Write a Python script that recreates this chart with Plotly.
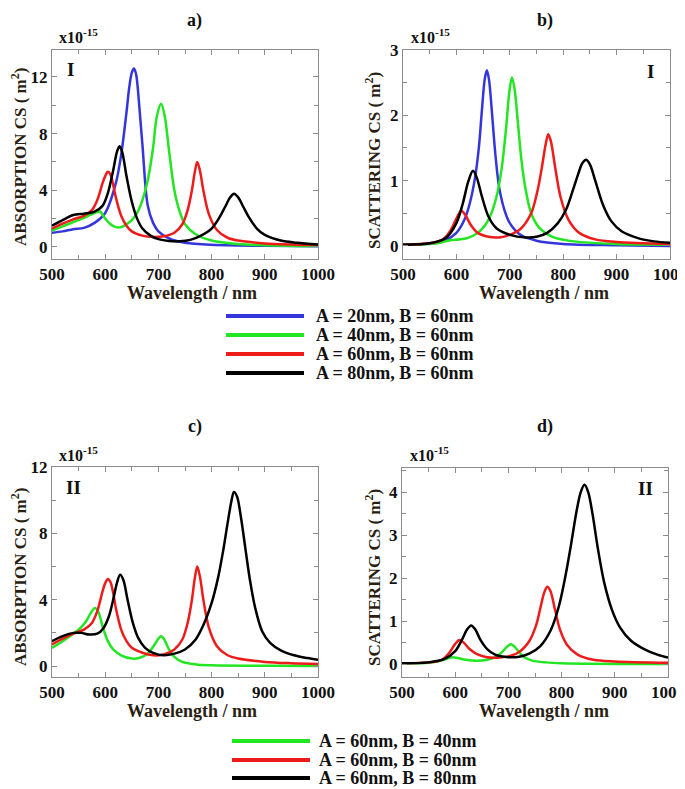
import plotly.graph_objects as go

W, H = 685, 789
OFF = 8  # the page body adds an 8px margin around the figure
FONT = "Liberation Serif, Times New Roman, serif"
TXT = "#2a1e12"
BLUE, GREEN, RED, BLACK = "#3535dc", "#22e622", "#ee1b1b", "#000000"

# ---------------- Panel a) absorption, set I ----------------
a_blue_x = [500, 520, 540, 560, 580, 600, 620, 630, 640, 645, 650, 654, 658, 665, 670, 680, 690, 700, 720, 750, 800, 900, 1000]
a_blue_y = [1.0, 1.1, 1.25, 1.35, 1.7, 2.4, 4.5, 6.5, 9.5, 11.2, 12.3, 12.6, 12.2, 9.5, 7.2, 2.9, 1.7, 1.1, 0.6, 0.3, 0.15, 0.08, 0.05]
a_green_x = [500, 520, 540, 560, 580, 590, 600, 610, 620, 630, 640, 650, 660, 670, 680, 690, 697, 705, 712, 720, 730, 740, 750, 770, 800, 850, 900, 1000]
a_green_y = [1.15, 1.45, 1.75, 2.05, 2.4, 2.5, 2.0, 1.6, 1.4, 1.4, 1.6, 1.9, 2.4, 3.3, 4.7, 7.0, 9.2, 10.1, 9.2, 6.8, 4.0, 2.5, 1.6, 0.9, 0.45, 0.2, 0.12, 0.06]
a_red_x = [500, 520, 540, 560, 575, 585, 595, 600, 605, 610, 615, 620, 630, 640, 650, 670, 690, 710, 730, 745, 755, 763, 768, 773, 778, 785, 795, 810, 830, 850, 900, 950, 1000]
a_red_y = [1.3, 1.65, 1.95, 2.2, 2.6, 3.3, 4.5, 5.0, 5.3, 5.1, 4.4, 3.5, 2.2, 1.5, 1.1, 0.8, 0.7, 0.75, 1.0, 1.6, 2.6, 4.0, 5.2, 6.0, 5.4, 3.9, 2.3, 1.2, 0.65, 0.45, 0.25, 0.17, 0.13]
a_black_x = [500, 520, 540, 560, 580, 595, 605, 615, 622, 627, 632, 640, 650, 660, 670, 685, 700, 720, 740, 760, 780, 800, 815, 825, 835, 842, 850, 860, 870, 885, 900, 930, 960, 1000]
a_black_y = [1.5, 1.9, 2.25, 2.35, 2.5, 2.9, 3.8, 5.4, 6.7, 7.1, 6.7, 5.0, 3.2, 2.0, 1.3, 0.8, 0.55, 0.42, 0.4, 0.5, 0.8, 1.3, 2.1, 2.8, 3.5, 3.75, 3.5, 2.8, 2.1, 1.3, 0.85, 0.45, 0.3, 0.18]

# ---------------- Panel b) scattering, set I ----------------
b_blue_x = [500, 540, 560, 580, 600, 615, 625, 635, 642, 648, 653, 657, 661, 667, 673, 680, 690, 700, 720, 750, 800, 900, 1000]
b_blue_y = [0.02, 0.03, 0.05, 0.09, 0.2, 0.4, 0.65, 1.05, 1.5, 2.1, 2.55, 2.69, 2.55, 2.0, 1.4, 0.9, 0.55, 0.35, 0.17, 0.08, 0.03, 0.01, 0.0]
b_green_x = [500, 550, 570, 590, 605, 620, 640, 660, 675, 685, 693, 699, 704, 709, 715, 722, 730, 740, 755, 780, 820, 900, 1000]
b_green_y = [0.02, 0.03, 0.05, 0.09, 0.1, 0.12, 0.2, 0.4, 0.75, 1.2, 1.8, 2.35, 2.58, 2.4, 1.9, 1.3, 0.85, 0.5, 0.28, 0.14, 0.07, 0.03, 0.02]
b_red_x = [500, 550, 575, 590, 600, 609, 617, 627, 640, 660, 680, 700, 720, 740, 752, 760, 767, 772, 777, 785, 795, 810, 830, 860, 900, 1000]
b_red_y = [0.02, 0.04, 0.1, 0.25, 0.42, 0.54, 0.47, 0.32, 0.2, 0.14, 0.13, 0.17, 0.26, 0.5, 0.85, 1.2, 1.55, 1.71, 1.6, 1.2, 0.75, 0.4, 0.2, 0.1, 0.06, 0.03]
b_black_x = [500, 550, 580, 600, 612, 622, 631, 638, 648, 660, 675, 700, 730, 750, 770, 790, 805, 818, 828, 836, 843, 850, 860, 875, 890, 910, 940, 970, 1000]
b_black_y = [0.02, 0.04, 0.12, 0.35, 0.65, 0.98, 1.15, 1.05, 0.75, 0.45, 0.27, 0.17, 0.13, 0.14, 0.2, 0.35, 0.55, 0.85, 1.1, 1.27, 1.32, 1.25, 1.0, 0.62, 0.38, 0.22, 0.12, 0.07, 0.05]

# ---------------- Panel c) absorption, set II ----------------
c_green_x = [500, 520, 540, 555, 565, 573, 581, 588, 595, 605, 615, 630, 650, 665, 680, 692, 700, 705, 711, 720, 730, 745, 770, 800, 900, 1000]
c_green_y = [1.1, 1.5, 1.95, 2.35, 2.75, 3.2, 3.5, 3.2, 2.4, 1.5, 1.0, 0.65, 0.45, 0.5, 0.75, 1.25, 1.65, 1.79, 1.6, 1.0, 0.55, 0.25, 0.1, 0.05, 0.02, 0.01]
c_red_x = [500, 520, 540, 560, 575, 585, 595, 600, 605, 610, 615, 620, 630, 640, 650, 670, 690, 710, 730, 745, 755, 763, 768, 773, 778, 785, 795, 810, 830, 850, 900, 950, 1000]
c_red_y = [1.3, 1.65, 1.95, 2.2, 2.6, 3.3, 4.5, 5.0, 5.25, 5.05, 4.4, 3.5, 2.2, 1.5, 1.1, 0.8, 0.65, 0.7, 1.0, 1.6, 2.6, 4.0, 5.2, 6.0, 5.4, 3.9, 2.3, 1.2, 0.65, 0.45, 0.25, 0.17, 0.13]
c_black_x = [500, 520, 540, 555, 570, 585, 597, 607, 615, 622, 628, 634, 642, 652, 662, 675, 690, 710, 730, 750, 770, 785, 800, 812, 822, 830, 837, 842, 848, 855, 863, 872, 882, 895, 910, 930, 955, 980, 1000]
c_black_y = [1.5, 1.8, 2.0, 2.0, 1.9, 1.95, 2.3, 3.0, 4.0, 5.0, 5.5, 5.2, 4.0, 2.6, 1.7, 1.1, 0.8, 0.65, 0.75, 1.0, 1.6, 2.5, 3.8, 5.3, 7.0, 8.6, 9.9, 10.5, 10.2, 9.0, 7.2, 5.2, 3.5, 2.1, 1.4, 0.95, 0.65, 0.48, 0.38]

# ---------------- Panel d) scattering, set II ----------------
d_green_x = [500, 550, 570, 585, 595, 605, 620, 640, 660, 675, 688, 697, 705, 712, 720, 730, 745, 770, 800, 1000]
d_green_y = [0.02, 0.03, 0.07, 0.13, 0.16, 0.14, 0.1, 0.08, 0.1, 0.16, 0.28, 0.4, 0.46, 0.4, 0.28, 0.16, 0.08, 0.04, 0.02, 0.0]
d_red_x = [500, 550, 575, 590, 600, 608, 616, 627, 640, 660, 680, 700, 720, 740, 752, 760, 767, 773, 779, 787, 797, 810, 830, 860, 900, 1000]
d_red_y = [0.02, 0.04, 0.1, 0.28, 0.47, 0.56, 0.5, 0.35, 0.24, 0.16, 0.15, 0.18, 0.28, 0.55, 0.9, 1.3, 1.65, 1.8, 1.7, 1.3, 0.8, 0.45, 0.22, 0.1, 0.06, 0.03]
d_black_x = [500, 550, 580, 600, 612, 622, 630, 637, 648, 660, 675, 700, 720, 740, 760, 780, 795, 808, 818, 828, 836, 843, 850, 858, 868, 880, 895, 910, 930, 955, 980, 1000]
d_black_y = [0.02, 0.04, 0.12, 0.3, 0.55, 0.8, 0.9, 0.82, 0.55, 0.35, 0.22, 0.16, 0.17, 0.25, 0.42, 0.8, 1.35, 2.1, 2.8, 3.55, 4.0, 4.17, 4.0, 3.5, 2.7, 1.9, 1.25, 0.85, 0.55, 0.35, 0.22, 0.15]

legend_top_labels = ["A = 20nm, B = 60nm", "A = 40nm, B = 60nm", "A = 60nm, B = 60nm", "A = 80nm, B = 60nm"]
legend_bot_labels = ["A = 60nm, B = 40nm", "A = 60nm, B = 60nm", "A = 60nm, B = 80nm"]

panels = {
    "a": dict(ax="", series=[(a_blue_x, a_blue_y, BLUE), (a_green_x, a_green_y, GREEN), (a_red_x, a_red_y, RED), (a_black_x, a_black_y, BLACK)]),
    "b": dict(ax="2", series=[(b_blue_x, b_blue_y, BLUE), (b_green_x, b_green_y, GREEN), (b_red_x, b_red_y, RED), (b_black_x, b_black_y, BLACK)]),
    "c": dict(ax="3", series=[(c_green_x, c_green_y, GREEN), (c_red_x, c_red_y, RED), (c_black_x, c_black_y, BLACK)]),
    "d": dict(ax="4", series=[(d_green_x, d_green_y, GREEN), (d_red_x, d_red_y, RED), (d_black_x, d_black_y, BLACK)]),
}

fig = go.Figure()
for key, p in panels.items():
    for xs, ys, col in p["series"]:
        fig.add_trace(go.Scatter(x=xs, y=ys, mode="lines", xaxis="x" + p["ax"], yaxis="y" + p["ax"],
                                 line=dict(color=col, width=2.5, shape="spline", smoothing=0.9),
                                 showlegend=False, hoverinfo="skip"))

def px(x):
    return (x - OFF) / W

def py(y):
    return 1 - (y - OFF) / H

# plot-area boxes in page pixels: (left, right, top, bottom)
boxes = {"a": (52, 318, 50, 259), "b": (403, 670, 50, 259), "c": (52, 318, 467, 677), "d": (402, 668, 468, 677)}
yr = {"a": [-0.85, 13.9], "b": [-0.2, 3.0], "c": [-0.66, 12.0], "d": [-0.3, 4.56]}
ytv = {"a": [0, 4, 8, 12], "b": [0, 1, 2, 3], "c": [0, 4, 8, 12], "d": [0, 1, 2, 3, 4]}
yminor = {"a": 2, "b": 0.5, "c": 2, "d": 0.5}

tickfont = dict(family=FONT, size=17, color="#111111", weight="bold")
axcommon = dict(showline=True, linecolor="#8c8c8c", linewidth=1, mirror="allticks", ticks="inside",
                ticklen=5, tickcolor="#8c8c8c", showgrid=False, zeroline=False, tickfont=tickfont,
                automargin=False, ticklabeloverflow="allow")

for key, p in panels.items():
    l, r, t, b = boxes[key]
    ax = p["ax"]
    fig.update_layout(**{
        "xaxis" + ax: dict(domain=[px(l), px(r)], range=[500, 1000], anchor="y" + ax,
                           tickvals=[500, 600, 700, 800, 900, 1000],
                           minor=dict(dtick=50, tick0=500, ticks="inside", ticklen=4, tickcolor="#8c8c8c"),
                           **axcommon),
        "yaxis" + ax: dict(domain=[py(b), py(t)], range=yr[key], anchor="x" + ax,
                           tickvals=ytv[key],
                           minor=dict(dtick=yminor[key], tick0=0, ticks="inside", ticklen=4, tickcolor="#8c8c8c"),
                           **axcommon),
    })

ann = []
def add_text(x, y, text, size, xanchor="center", yanchor="middle", angle=0, color=TXT):
    ann.append(dict(x=px(x), y=py(y), xref="paper", yref="paper", text=text, showarrow=False,
                    xanchor=xanchor, yanchor=yanchor, textangle=angle,
                    font=dict(family=FONT, size=size, color=color, weight="bold")))

# panel titles
add_text(195, 20, "a)", 18, color="#111111")
add_text(545, 20, "b)", 18, color="#111111")
add_text(195, 426, "c)", 18, color="#111111")
add_text(545, 426, "d)", 18, color="#111111")
# exponent notes
for x0, y0 in [(57, 48), (409, 48), (57, 466), (408, 466)]:
    add_text(x0, y0, "x10<sup>-15</sup>", 16, xanchor="left", yanchor="bottom", color="#111111")
# set markers
add_text(70, 70, "I", 19, color="#111111")
add_text(650, 72, "I", 19, color="#111111")
add_text(73, 487, "II", 19, color="#111111")
add_text(645, 488, "II", 19, color="#111111")
# y titles
add_text(19, 157, "ABSORPTION CS ( m<sup>2</sup>)", 17, angle=-90)
add_text(373, 161, "SCATTERING CS ( m<sup>2</sup>)", 17, angle=-90)
add_text(19, 577, "ABSORPTION CS ( m<sup>2</sup>)", 17, angle=-90)
add_text(373, 578, "SCATTERING CS ( m<sup>2</sup>)", 17, angle=-90)
# x titles
add_text(192, 293, "Wavelength / nm", 18)
add_text(544, 293, "Wavelength / nm", 18)
add_text(192, 711, "Wavelength / nm", 18)
add_text(544, 711, "Wavelength / nm", 18)

# legends (drawn as line samples + labels)
shapes = []
top_cols = [BLUE, GREEN, RED, BLACK]
top_y = [316, 335, 354, 373]
for lab, col, yy in zip(legend_top_labels, top_cols, top_y):
    shapes.append(dict(type="line", xref="paper", yref="paper", x0=px(226), x1=px(304), y0=py(yy), y1=py(yy),
                       line=dict(color=col, width=4)))
    add_text(314, yy, lab, 18, xanchor="left", color="#111111")
bot_cols = [GREEN, RED, BLACK]
bot_y = [741, 760, 778]
for lab, col, yy in zip(legend_bot_labels, bot_cols, bot_y):
    shapes.append(dict(type="line", xref="paper", yref="paper", x0=px(232), x1=px(310), y0=py(yy), y1=py(yy),
                       line=dict(color=col, width=4)))
    add_text(317, yy, lab, 18, xanchor="left", color="#111111")

fig.update_layout(width=W, height=H, margin=dict(l=0, r=0, t=0, b=0, autoexpand=False), autosize=False,
                  paper_bgcolor="white", plot_bgcolor="white", annotations=ann, shapes=shapes,
                  showlegend=False)

fig.write_html("out.html")
